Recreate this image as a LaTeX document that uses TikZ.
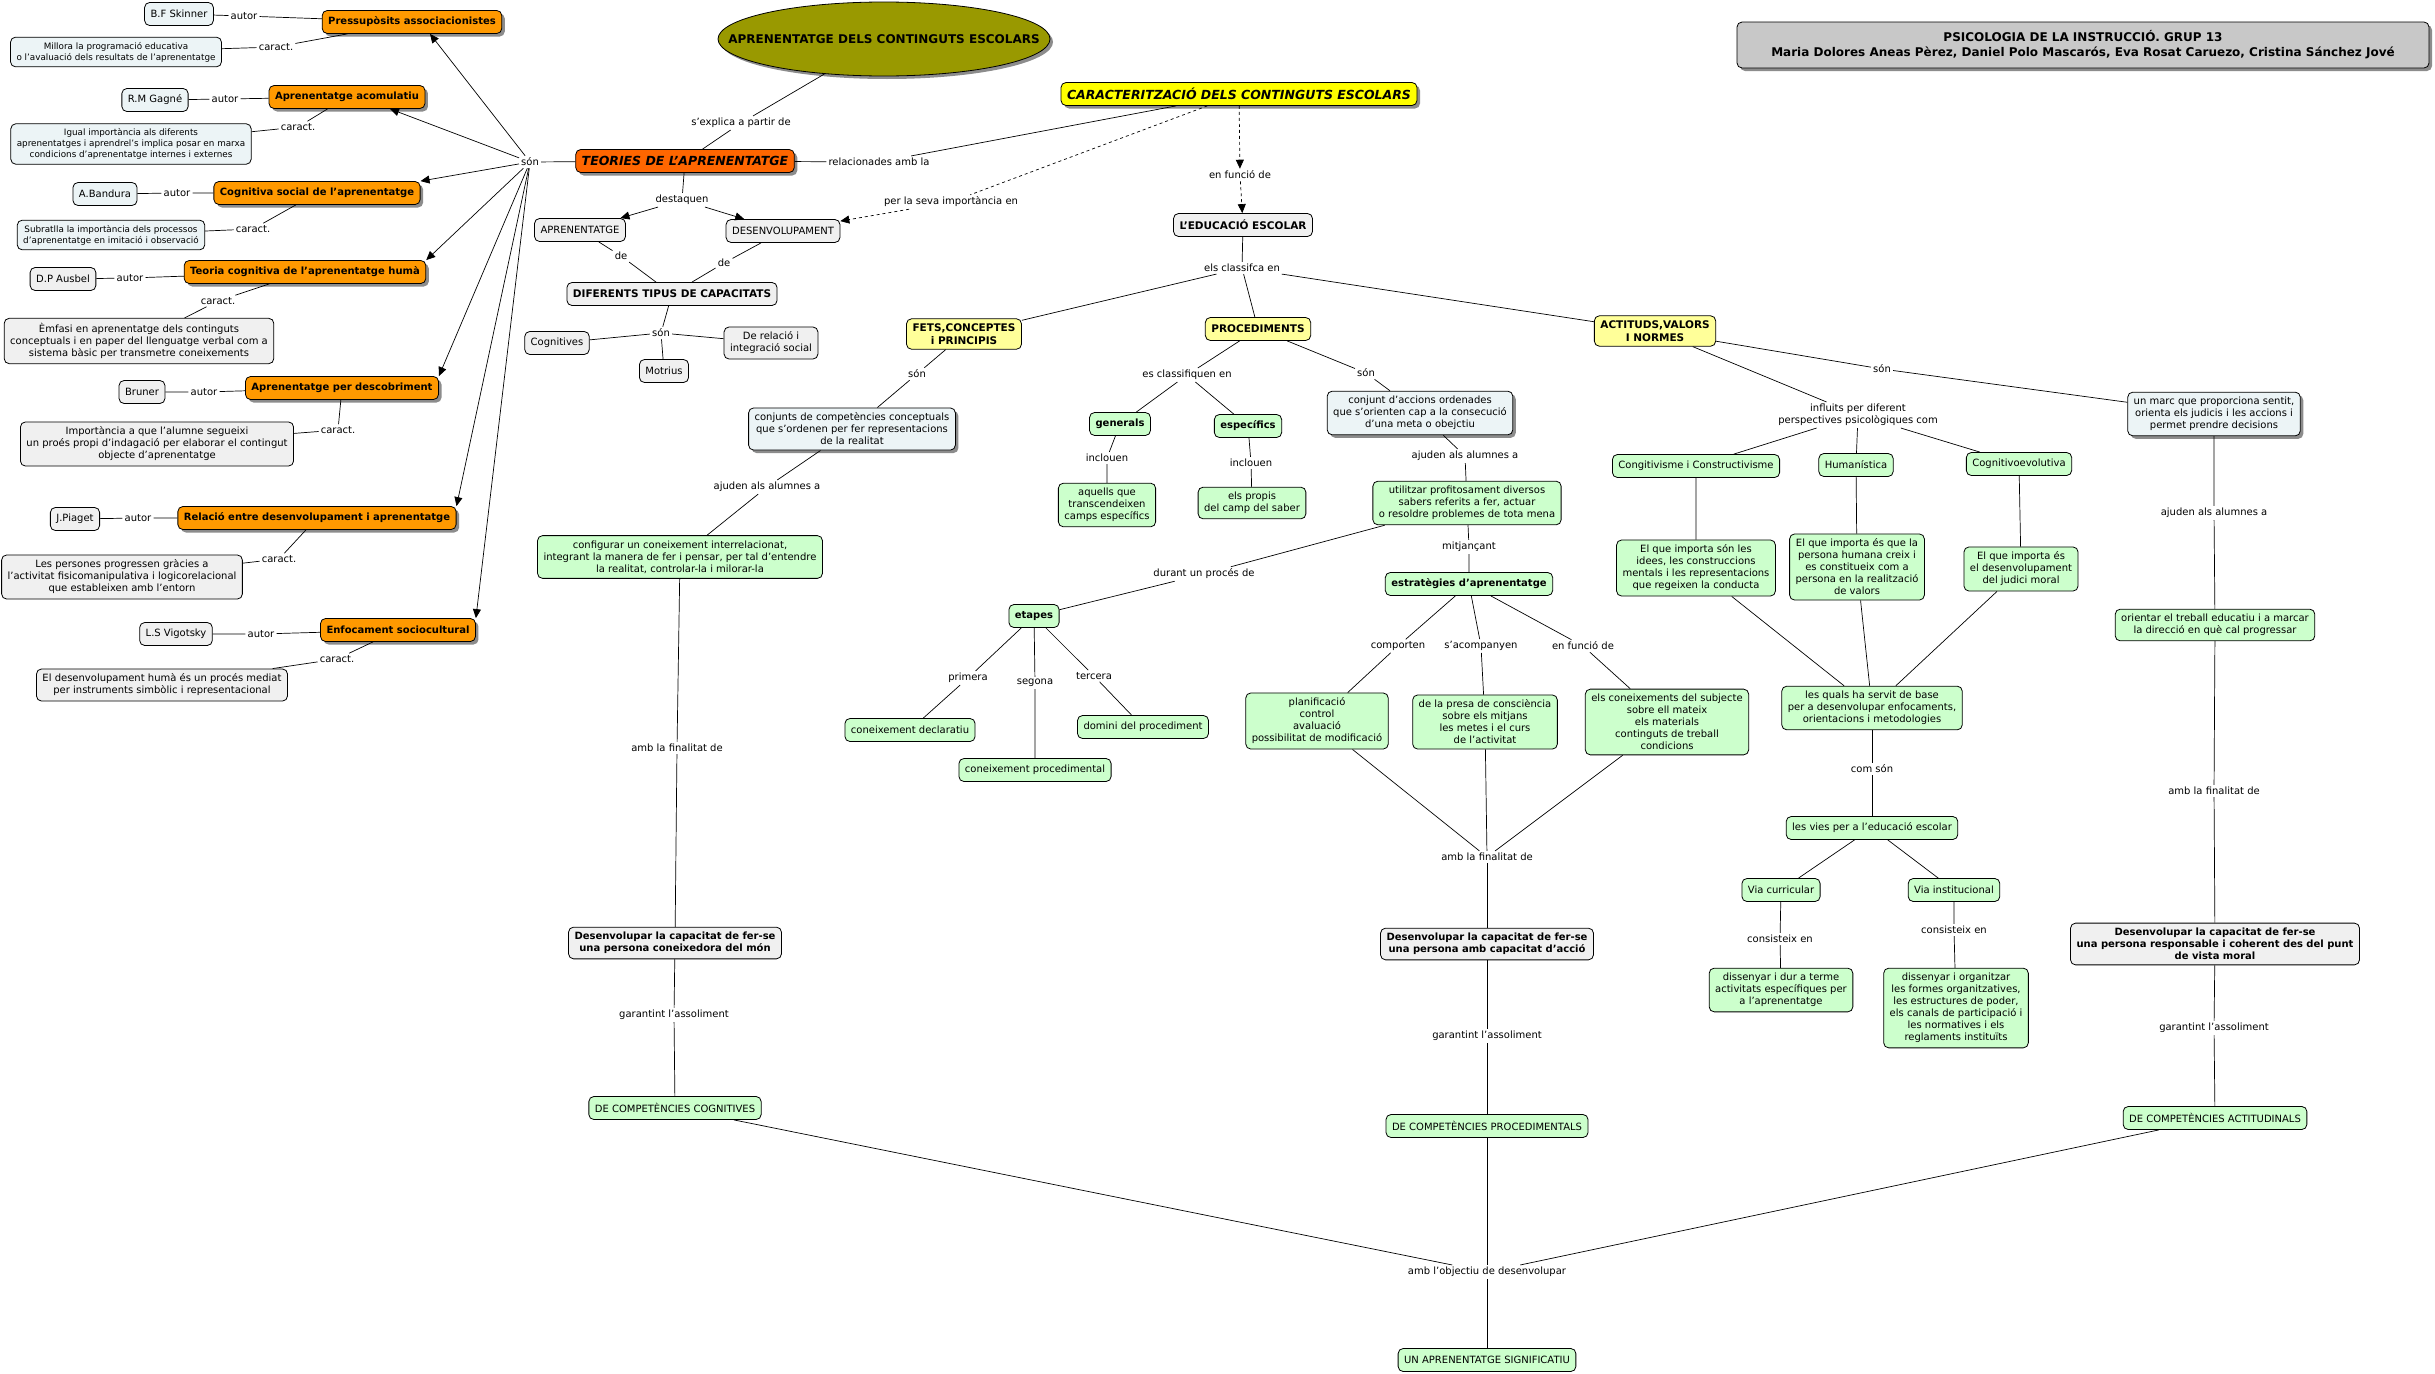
\documentclass[tikz,border=0pt]{standalone}
\usepackage{fontspec}
\setmainfont{DejaVu Sans}
\usetikzlibrary{arrows.meta, shapes.geometric, shadows}

\definecolor{orangefill}{HTML}{FF9900}
\definecolor{redorange}{HTML}{FF6600}
\definecolor{olivefill}{HTML}{999900}
\definecolor{brightyellow}{HTML}{FFFF00}
\definecolor{paleyellow}{HTML}{FFFF99}
\definecolor{palegreen}{HTML}{CCFFCC}
\definecolor{palegray}{HTML}{F0F0F0}
\definecolor{paleblue}{HTML}{ECF4F6}
\definecolor{titlegray}{HTML}{C8C8C8}

\begin{document}
\begin{tikzpicture}[x=1pt, y=-1pt,
  box/.style={rectangle, draw, rounded corners=5pt, line width=0.8pt, align=center, inner xsep=6pt, inner ysep=5pt, minimum height=23pt, font=\fontsize{10}{12}\selectfont},
  shade/.style={drop shadow={shadow xshift=3pt, shadow yshift=-3pt, fill=black!45, opacity=1}},
  theory/.style={box, fill=orangefill, font=\fontsize{10}{12}\selectfont\bfseries, shade},
  note/.style={box, fill=palegray},
  authorbox/.style={box, fill=paleblue},
  smallnote/.style={box, fill=paleblue, font=\fontsize{8.8}{10.8}\selectfont},
  concept/.style={box, fill=palegray, font=\fontsize{10.5}{12.5}\selectfont\bfseries},
  aim/.style={box, fill=palegray, font=\fontsize{10}{12}\selectfont\bfseries},
  kind/.style={box, fill=paleyellow, font=\fontsize{10.5}{12.5}\selectfont\bfseries},
  goal/.style={box, fill=palegreen},
  boldgoal/.style={goal, font=\fontsize{10}{12}\selectfont\bfseries},
  info/.style={box, fill=paleblue, shade},
  lbl/.style={inner sep=2pt, font=\fontsize{10}{12}\selectfont, align=center},
  link/.style={line width=0.7pt},
  arrow/.style={link, -{Triangle[length=9pt, width=8pt]}},
  dlink/.style={link, dash pattern=on 3pt off 3pt}
]
\fill[white] (0,0) rectangle (2435,1373);
\useasboundingbox (0,0) rectangle (2435,1373);

\node[authorbox] (skinner) at (179,14) {B.F Skinner};
\node[lbl] (a1) at (244,16) {autor};
\node[theory] (pressu) at (412,22) {Pressupòsits associacionistes};
\node[smallnote] (millora) at (116,52) {Millora la programació educativa\\o l'avaluació dels resultats de l'aprenentatge};
\node[lbl] (c1) at (276,47) {caract.};

\node[authorbox] (gagne) at (155,100) {R.M Gagné};
\node[lbl] (a2) at (225,99) {autor};
\node[theory] (acomul) at (347,97) {Aprenentatge acomulatiu};
\node[lbl] (c2) at (298,127) {caract.};
\node[smallnote] (igual) at (131,144) {Igual importància als diferents\\aprenentatges i aprendrel's implica posar en marxa\\condicions d'aprenentatge internes i externes};

\node[authorbox] (bandura) at (105,194) {A.Bandura};
\node[lbl] (a3) at (177,193) {autor};
\node[theory] (cogsoc) at (317,193) {Cognitiva social de l'aprenentatge};
\node[lbl] (c3) at (253,229) {caract.};
\node[smallnote] (subratlla) at (111,235) {Subratlla la importància dels processos\\d'aprenentatge en imitació i observació};

\node[note] (ausbel) at (63,279) {D.P Ausbel};
\node[lbl] (a4) at (130,278) {autor};
\node[theory] (teoriacog) at (305,272) {Teoria cognitiva de l'aprenentatge humà};
\node[lbl] (c4) at (218,301) {caract.};
\node[note] (emfasi) at (139,341) {Èmfasi en aprenentatge dels continguts\\conceptuals i en paper del llenguatge verbal com a\\sistema bàsic per transmetre coneixements};

\node[note] (bruner) at (142,392) {Bruner};
\node[lbl] (a5) at (204,392) {autor};
\node[theory] (descob) at (342,388) {Aprenentatge per descobriment};
\node[lbl] (c5) at (338,430) {caract.};
\node[note] (importancia) at (157,444) {Importància a que l'alumne segueixi\\un proés propi d'indagació per elaborar el contingut\\objecte d'aprenentatge};

\node[note] (piaget) at (75,519) {J.Piaget};
\node[lbl] (a6) at (138,518) {autor};
\node[theory] (relacio) at (317,518) {Relació entre desenvolupament i aprenentatge};
\node[lbl] (c6) at (279,559) {caract.};
\node[note] (persones) at (122,577) {Les persones progressen gràcies a\\l'activitat fisicomanipulativa i logicorelacional\\que estableixen amb l'entorn};

\node[note] (vigotsky) at (176,634) {L.S Vigotsky};
\node[lbl] (a7) at (261,634) {autor};
\node[theory] (enfoc) at (398,630) {Enfocament sociocultural};
\node[lbl] (c7) at (337,659) {caract.};
\node[note] (desenvhuma) at (162,685) {El desenvolupament humà és un procés mediat\\per instruments simbòlic i representacional};

\node[ellipse, draw, line width=0.8pt, fill=olivefill, minimum width=332pt, minimum height=74pt, font=\fontsize{12}{14}\selectfont\bfseries, shade] (topic) at (884,39) {\makebox[0pt]{APRENENTATGE DELS CONTINGUTS ESCOLARS}};
\node[lbl] (explica) at (741,123) {s'explica a partir de};
\node[box, fill=redorange, font=\fontsize{12.5}{14}\selectfont\bfseries\itshape, shade] (teories) at (685,161) {TEORIES DE L'APRENENTATGE};
\node[lbl] (son1) at (530,162) {són};
\node[lbl] (relac) at (879,162) {relacionades amb la};
\node[lbl] (destaquen) at (682,200) {destaquen};
\node[note] (aprenentatge) at (580,230) {APRENENTATGE};
\node[note] (desenvol) at (783,231) {DESENVOLUPAMENT};
\node[lbl] (perseva) at (951,202) {per la seva importància en};
\node[lbl] (de1) at (621,256) {de};
\node[lbl] (de2) at (724,263) {de};
\node[concept] (diferents) at (672,294) {DIFERENTS TIPUS DE CAPACITATS};
\node[lbl] (son2) at (661,333) {són};
\node[note] (cognitives) at (557,343) {Cognitives};
\node[note] (motrius) at (664,371) {Motrius};
\node[note] (derelacio) at (771,343) {De relació i\\integració social};

\node[box, fill=brightyellow, font=\fontsize{12.5}{14}\selectfont\bfseries\itshape, shade] (caract) at (1239,94) {CARACTERITZACIÓ DELS CONTINGUTS ESCOLARS};
\node[lbl] (enfuncio1) at (1240,175) {en funció de};
\node[concept] (educacio) at (1243,225) {L'EDUCACIÓ ESCOLAR};
\node[lbl] (classifca) at (1242,268) {els classifca en};
\node[kind] (fets) at (964,334) {FETS,CONCEPTES\\i PRINCIPIS};
\node[kind] (proced) at (1258,329) {PROCEDIMENTS};
\node[kind] (actituds) at (1655,331) {ACTITUDS,VALORS\\I NORMES};

\node[lbl] (son3) at (917,374) {són};
\node[info] (conjunts) at (852,429) {conjunts de competències conceptuals\\que s'ordenen per fer representacions\\de la realitat};
\node[lbl] (ajuden1) at (767,487) {ajuden als alumnes a};
\node[goal] (configurar) at (680,557) {configurar un coneixement interrelacionat,\\integrant la manera de fer i pensar, per tal d'entendre\\la realitat, controlar-la i milorar-la};
\node[lbl] (finalitat1) at (677,748) {amb la finalitat de};
\node[aim] (desenv1) at (675,943) {Desenvolupar la capacitat de fer-se\\una persona coneixedora del món};
\node[lbl] (garantint1) at (674,1015) {garantint l'assoliment};
\node[goal] (cognitivesc) at (675,1108) {DE COMPETÈNCIES COGNITIVES};

\node[lbl] (esclass) at (1187,375) {es classifiquen en};
\node[lbl] (son4) at (1366,373) {són};
\node[boldgoal] (generals) at (1120,424) {generals};
\node[boldgoal] (especifics) at (1248,426) {específics};
\node[info] (conjunt) at (1420,413) {conjunt d'accions ordenades\\que s'orienten cap a la consecució\\d'una meta o obejctiu};
\node[lbl] (inclouen1) at (1107,458) {inclouen};
\node[lbl] (inclouen2) at (1251,463) {inclouen};
\node[goal] (aquells) at (1107,505) {aquells que\\transcendeixen\\camps específics};
\node[goal] (propis) at (1252,503) {els propis\\del camp del saber};
\node[lbl] (ajuden2) at (1465,456) {ajuden als alumnes a};
\node[goal] (utilitzar) at (1467,503) {utilitzar profitosament diversos\\sabers referits a fer, actuar\\o resoldre problemes de tota mena};
\node[lbl] (mitjancant) at (1469,547) {mitjançant};
\node[lbl] (durant) at (1204,574) {durant un procés de};
\node[boldgoal] (estrategies) at (1469,584) {estratègies d'aprenentatge};
\node[boldgoal] (etapes) at (1034,616) {etapes};
\node[lbl] (primera) at (968,678) {primera};
\node[lbl] (segona) at (1035,683) {segona};
\node[lbl] (tercera) at (1094,676) {tercera};
\node[goal] (declaratiu) at (910,730) {coneixement declaratiu};
\node[goal] (procedimental) at (1035,770) {coneixement procedimental};
\node[goal] (domini) at (1143,727) {domini del procediment};
\node[lbl] (comporten) at (1398,646) {comporten};
\node[lbl] (acompanyen) at (1481,646) {s'acompanyen};
\node[lbl] (enfuncio2) at (1583,646) {en funció de};
\node[goal] (planif) at (1317,721) {planificació\\control\\avaluació\\possibilitat de modificació};
\node[goal] (presa) at (1485,722) {de la presa de consciència\\sobre els mitjans\\les metes i el curs\\de l'activitat};
\node[goal] (coneixements) at (1667,722) {els coneixements del subjecte\\sobre ell mateix\\els materials\\continguts de treball\\condicions};
\node[lbl] (finalitat2) at (1487,857) {amb la finalitat de};
\node[aim] (desenv2) at (1487,944) {Desenvolupar la capacitat de fer-se\\una persona amb capacitat d'acció};
\node[lbl] (garantint2) at (1487,1036) {garantint l'assoliment};
\node[goal] (procedimentals) at (1487,1126) {DE COMPETÈNCIES PROCEDIMENTALS};
\node[lbl] (objectiu) at (1487,1272) {amb l'objectiu de desenvolupar};
\node[goal] (significatiu) at (1487,1360) {UN APRENENTATGE SIGNIFICATIU};

\node[box, fill=titlegray, font=\fontsize{12}{15}\selectfont\bfseries, minimum width=692pt, minimum height=46pt, shade] (title) at (2083,45) {PSICOLOGIA DE LA INSTRUCCIÓ. GRUP 13\\Maria Dolores Aneas Pèrez, Daniel Polo Mascarós, Eva Rosat Caruezo, Cristina Sánchez Jové};
\node[lbl] (son5) at (1882,369) {són};
\node[info] (marc) at (2214,414) {un marc que proporciona sentit,\\orienta els judicis i les accions i\\permet prendre decisions};
\node[lbl] (influits) at (1858,415) {influits per diferent\\perspectives psicològiques com};
\node[goal] (congitivisme) at (1696,466) {Congitivisme i Constructivisme};
\node[goal] (humanistica) at (1856,465) {Humanística};
\node[goal] (cogevol) at (2019,464) {Cognitivoevolutiva};
\node[goal] (ideas) at (1696,568) {El que importa són les\\idees, les construccions\\mentals i les representacions\\que regeixen la conducta};
\node[goal] (persona) at (1857,567) {El que importa és que la\\persona humana creix i\\es constitueix com a\\persona en la realització\\de valors};
\node[goal] (judici) at (2021,569) {El que importa és\\el desenvolupament\\del judici moral};
\node[goal] (quals) at (1872,708) {les quals ha servit de base\\per a desenvolupar enfocaments,\\orientacions i metodologies};
\node[lbl] (comson) at (1872,769) {com són};
\node[goal] (vies) at (1872,828) {les vies per a l'educació escolar};
\node[goal] (curricular) at (1781,890) {Via curricular};
\node[goal] (institucional) at (1954,890) {Via institucional};
\node[lbl] (consisteix1) at (1780,939) {consisteix en};
\node[lbl] (consisteix2) at (1954,930) {consisteix en};
\node[goal] (dur) at (1781,990) {dissenyar i dur a terme\\activitats específiques per\\a l'aprenentatge};
\node[goal] (organitzar) at (1956,1008) {dissenyar i organitzar\\les formes organitzatives,\\les estructures de poder,\\els canals de participació i\\les normatives i els\\reglaments instituïts};
\node[lbl] (ajuden3) at (2214,513) {ajuden als alumnes a};
\node[goal] (orientar) at (2215,625) {orientar el treball educatiu i a marcar\\la direcció en què cal progressar};
\node[lbl] (finalitat3) at (2214,791) {amb la finalitat de};
\node[aim] (desenv3) at (2215,944) {Desenvolupar la capacitat de fer-se\\una persona responsable i coherent des del punt\\de vista moral};
\node[lbl] (garantint3) at (2214,1028) {garantint l'assoliment};
\node[goal] (actitudinals) at (2215,1118) {DE COMPETÈNCIES ACTITUDINALS};

\draw[link] (skinner) -- (a1) -- (pressu);
\draw[link] (pressu) -- (c1) -- (millora);
\draw[link] (gagne) -- (a2) -- (acomul);
\draw[link] (acomul) -- (c2) -- (igual);
\draw[link] (bandura) -- (a3) -- (cogsoc);
\draw[link] (cogsoc) -- (c3) -- (subratlla);
\draw[link] (ausbel) -- (a4) -- (teoriacog);
\draw[link] (teoriacog) -- (c4) -- (emfasi);
\draw[link] (bruner) -- (a5) -- (descob);
\draw[link] (descob) -- (c5) -- (importancia);
\draw[link] (piaget) -- (a6) -- (relacio);
\draw[link] (relacio) -- (c6) -- (persones);
\draw[link] (vigotsky) -- (a7) -- (enfoc);
\draw[link] (enfoc) -- (c7) -- (desenvhuma);

\draw[link] (teories) -- (son1);
\draw[arrow] (son1) -- ([xshift=18pt]pressu.south);
\draw[arrow] (son1) -- ([xshift=43pt]acomul.south);
\draw[arrow] (son1) -- (cogsoc.north east);
\draw[arrow] (son1) -- (teoriacog.north east);
\draw[arrow] (son1) -- (descob.north east);
\draw[arrow] (son1) -- (relacio.north east);
\draw[arrow] (son1) -- (enfoc.north east);

\draw[link] (topic) -- (explica) -- (teories);
\draw[link] (teories) -- (relac) -- (caract);
\draw[link] (teories) -- (destaquen);
\draw[arrow] (destaquen) -- (aprenentatge);
\draw[arrow] (destaquen) -- (desenvol);
\draw[dlink] (caract) -- (perseva);
\draw[dlink, -{Triangle[length=9pt, width=8pt]}] (perseva) -- (desenvol);
\draw[link] (aprenentatge) -- (de1) -- (diferents);
\draw[link] (desenvol) -- (de2) -- (diferents);
\draw[link] (diferents) -- (son2);
\draw[link] (son2) -- (cognitives);
\draw[link] (son2) -- (motrius);
\draw[link] (son2) -- (derelacio);

\draw[dlink, -{Triangle[length=9pt, width=8pt]}] (caract) -- (enfuncio1);
\draw[dlink, -{Triangle[length=9pt, width=8pt]}] (enfuncio1) -- (educacio);
\draw[link] (educacio) -- (classifca);
\draw[link] (classifca) -- (fets);
\draw[link] (classifca) -- (proced);
\draw[link] (classifca) -- (actituds);

\draw[link] (fets) -- (son3) -- (conjunts) -- (ajuden1) -- (configurar);
\draw[link] (configurar) -- (finalitat1) -- (desenv1) -- (garantint1) -- (cognitivesc);
\draw[link] (cognitivesc) -- (objectiu);

\draw[link] (proced) -- (esclass);
\draw[link] (esclass) -- (generals) -- (inclouen1) -- (aquells);
\draw[link] (esclass) -- (especifics) -- (inclouen2) -- (propis);
\draw[link] (proced) -- (son4) -- (conjunt) -- (ajuden2) -- (utilitzar) -- (mitjancant) -- (estrategies);
\draw[link] (utilitzar) -- (durant) -- (etapes);
\draw[link] (etapes) -- (primera) -- (declaratiu);
\draw[link] (etapes) -- (segona) -- (procedimental);
\draw[link] (etapes) -- (tercera) -- (domini);
\draw[link] (estrategies) -- (comporten) -- (planif);
\draw[link] (estrategies) -- (acompanyen) -- (presa);
\draw[link] (estrategies) -- (enfuncio2) -- (coneixements);
\draw[link] (planif) -- (finalitat2);
\draw[link] (presa) -- (finalitat2);
\draw[link] (coneixements) -- (finalitat2);
\draw[link] (finalitat2) -- (desenv2) -- (garantint2) -- (procedimentals) -- (objectiu);
\draw[link] (objectiu) -- (significatiu);

\draw[link] (actituds) -- (son5) -- (marc) -- (ajuden3) -- (orientar) -- (finalitat3) -- (desenv3) -- (garantint3) -- (actitudinals);
\draw[link] (actitudinals) -- (objectiu);
\draw[link] (actituds) -- (influits);
\draw[link] (influits) -- (congitivisme) -- (ideas);
\draw[link] (influits) -- (humanistica) -- (persona);
\draw[link] (influits) -- (cogevol) -- (judici);
\draw[link] (ideas) -- (quals);
\draw[link] (persona) -- (quals);
\draw[link] (judici) -- (quals);
\draw[link] (quals) -- (comson) -- (vies);
\draw[link] (vies) -- (curricular) -- (consisteix1) -- (dur);
\draw[link] (vies) -- (institucional) -- (consisteix2) -- (organitzar);
\end{tikzpicture}
\end{document}
